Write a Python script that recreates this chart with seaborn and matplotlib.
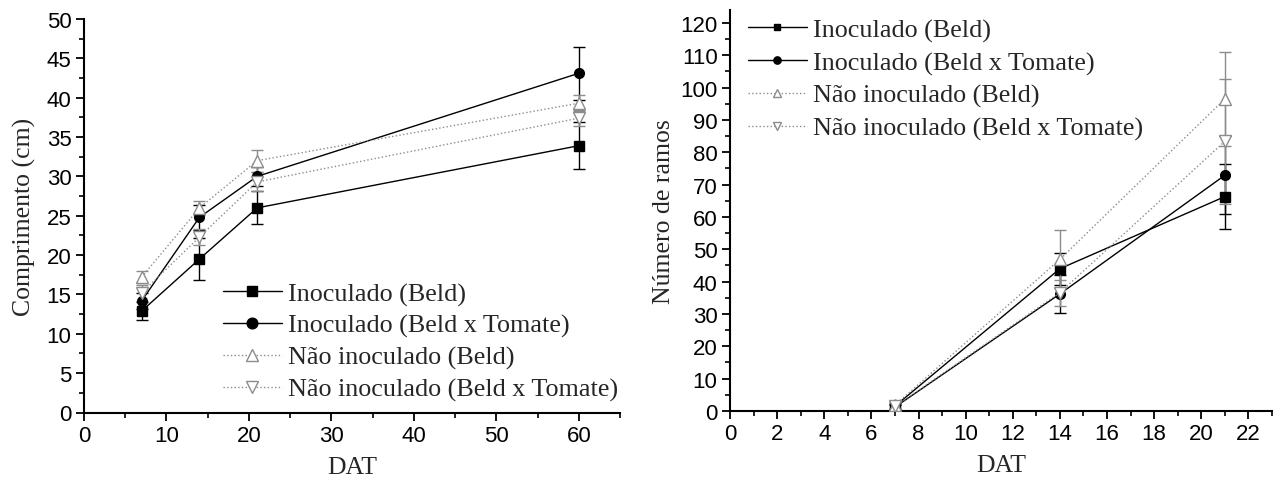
import numpy as np
import pandas as pd
import matplotlib
matplotlib.use("Agg")
import matplotlib.pyplot as plt
from matplotlib.ticker import MultipleLocator
import seaborn as sns

# ---------------- data ----------------
series_names = ["Inoculado (Beld)", "Inoculado (Beld x Tomate)",
                "Não inoculado (Beld)", "Não inoculado (Beld x Tomate)"]

# Left panel: Comprimento (cm)
dat_left = [7, 14, 21, 60]
comp_inoc_beld = [12.9, 19.5, 26.0, 33.9]
comp_inoc_beld_err = [1.2, 2.7, 2.1, 3.0]
comp_inoc_bt = [14.2, 24.8, 30.0, 43.1]
comp_inoc_bt_err = [1.0, 1.6, 1.2, 3.4]
comp_nao_beld = [17.2, 26.0, 32.0, 39.3]
comp_nao_beld_err = [0.8, 0.9, 1.4, 1.0]
comp_nao_bt = [15.2, 22.3, 29.3, 37.4]
comp_nao_bt_err = [1.0, 1.0, 1.2, 1.0]

# Right panel: Número de ramos
dat_right = [7, 14, 21]
ram_inoc_beld = [1.5, 44.0, 66.3]
ram_inoc_beld_err = [0.8, 5.0, 10.0]
ram_inoc_bt = [1.2, 36.2, 72.9]
ram_inoc_bt_err = [0.8, 6.0, 12.0]
ram_nao_beld = [1.8, 46.9, 96.5]
ram_nao_beld_err = [0.9, 9.0, 14.5]
ram_nao_bt = [1.4, 36.6, 83.4]
ram_nao_bt_err = [0.9, 4.0, 19.4]

# ---------------- style ----------------
sns.set_theme(style="ticks")
plt.rcParams["font.family"] = ["Liberation Sans", "DejaVu Sans"]
serif = ["Liberation Serif", "DejaVu Serif"]

GRAY = "#8c8c8c"
styles = [
    dict(color="black", marker="s", ls="-", mfc="black", mec="black", ms=6.5),
    dict(color="black", marker="o", ls="-", mfc="black", mec="black", ms=7),
    dict(color=GRAY, marker="^", ls=":", mfc="white", mec=GRAY, ms=8.5),
    dict(color=GRAY, marker="v", ls=":", mfc="white", mec=GRAY, ms=8.5),
]

fig = plt.figure(figsize=(12.8, 4.89), dpi=100)
axL = fig.add_axes([84/1280, 1-413.5/489, (620-84)/1280, (413.5-20)/489])
axR = fig.add_axes([730/1280, 1-412/489, (1272-730)/1280, (412-11)/489])


def draw(ax, x, ys, errs):
    handles = []
    for name, y, e, st in zip(series_names, ys, errs, styles):
        df = pd.DataFrame({"DAT": x, "val": y})
        ax.errorbar(df["DAT"], df["val"], yerr=e, fmt="none",
                    ecolor=st["color"], elinewidth=1.0, capsize=4,
                    capthick=1.0, zorder=2)
        sns.lineplot(data=df, x="DAT", y="val", ax=ax, color=st["color"],
                     linestyle=st["ls"], linewidth=1.0, marker=st["marker"],
                     markersize=st["ms"], markerfacecolor=st["mfc"],
                     markeredgecolor=st["mec"], markeredgewidth=1.0,
                     label=name, legend=False, zorder=3)
        h, = ax.plot([], [], color=st["color"], linestyle=st["ls"],
                     linewidth=1.0, marker=st["marker"], markersize=st["ms"],
                     markerfacecolor=st["mfc"], markeredgecolor=st["mec"],
                     markeredgewidth=1.0)
        handles.append(h)
    return handles


hL = draw(axL, dat_left,
          [comp_inoc_beld, comp_inoc_bt, comp_nao_beld, comp_nao_bt],
          [comp_inoc_beld_err, comp_inoc_bt_err, comp_nao_beld_err, comp_nao_bt_err])
hR = draw(axR, dat_right,
          [ram_inoc_beld, ram_inoc_bt, ram_nao_beld, ram_nao_bt],
          [ram_inoc_beld_err, ram_inoc_bt_err, ram_nao_beld_err, ram_nao_bt_err])

# axes formatting
axL.set_xlim(0, 65)
axL.set_ylim(0, 50)
axL.xaxis.set_major_locator(MultipleLocator(10))
axL.xaxis.set_minor_locator(MultipleLocator(5))
axL.yaxis.set_major_locator(MultipleLocator(5))
axL.yaxis.set_minor_locator(MultipleLocator(2.5))
axL.set_xlabel("DAT", fontsize=18.5, family=serif, labelpad=7)
axL.set_ylabel("Comprimento (cm)", fontsize=18.5, family=serif, labelpad=8)

axR.set_xlim(0, 23)
axR.set_ylim(0, 124)
axR.xaxis.set_major_locator(MultipleLocator(2))
axR.xaxis.set_minor_locator(MultipleLocator(1))
axR.yaxis.set_major_locator(MultipleLocator(10))
axR.yaxis.set_minor_locator(MultipleLocator(5))
axR.set_xlabel("DAT", fontsize=18.5, family=serif, labelpad=7)
axR.set_ylabel("Número de ramos", fontsize=18.5, family=serif, labelpad=4)

for ax in (axL, axR):
    for s in ("top", "right"):
        ax.spines[s].set_visible(False)
    for s in ("left", "bottom"):
        ax.spines[s].set_linewidth(1.5)
        ax.spines[s].set_color("black")
    ax.tick_params(which="major", direction="out", length=6, width=1.3,
                   labelsize=16, colors="black", pad=3)
    ax.tick_params(which="minor", direction="out", length=3.5, width=1.2,
                   colors="black")
    ax.set_facecolor("white")

prop = {"family": serif, "size": 18.8}
fig.legend(hL, series_names, loc="upper left", frameon=False, prop=prop,
           handlelength=2.25, handletextpad=0.25, labelspacing=0.31,
           borderpad=0, borderaxespad=0, markerscale=1.1,
           bbox_to_anchor=(223/1280, 1-283/489))
fig.legend(hR, series_names, loc="upper left", frameon=False, prop=prop,
           handlelength=2.25, handletextpad=0.25, labelspacing=0.35,
           borderpad=0, borderaxespad=0, markerscale=0.75,
           bbox_to_anchor=(748/1280, 1-19/489))

fig.savefig("out.png", dpi=100, facecolor="white")
